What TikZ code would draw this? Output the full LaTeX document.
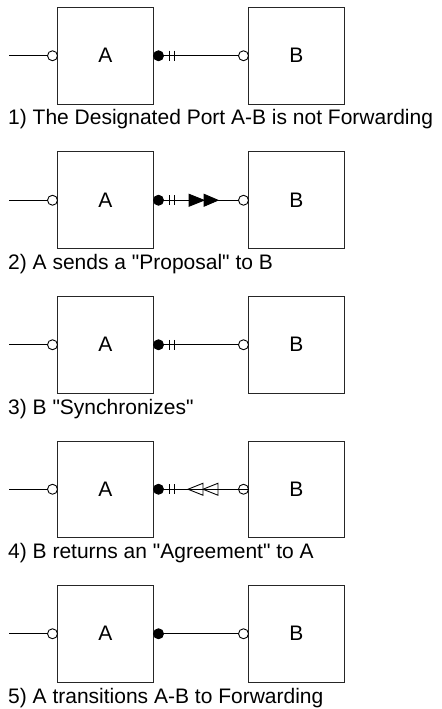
\documentclass[tikz,border=0pt]{standalone}
\usepackage{fontspec}
\setmainfont{Liberation Sans}[Ligatures=TeXOff]
\usetikzlibrary{calc}

\tikzset{
  bridge/.style={draw=black!85, line width=1bp, minimum width=96bp, minimum height=96.5bp,
    inner sep=0pt, font=\fontsize{21bp}{25bp}\selectfont},
  openport/.style={circle, draw, fill=white, line width=0.9bp, minimum size=10bp, inner sep=0pt},
  hollowport/.style={circle, draw, line width=0.9bp, minimum size=10bp, inner sep=0pt},
  rootport/.style={circle, draw, fill=black, line width=0.9bp, minimum size=10bp, inner sep=0pt},
  wire/.style={line width=0.9bp},
  caption/.style={anchor=base west, inner sep=0pt, font=\fontsize{21bp}{25bp}\selectfont},
  flag/.style={line width=0.9bp, fill=black, line join=miter},
  ackflag/.style={line width=0.9bp, line join=miter},
}

\begin{document}
\begin{tikzpicture}[x=1bp, y=-1bp]
\useasboundingbox (0,0) rectangle (442,709);
\fill[white] (0,0) rectangle (442,709);

% five snapshots of the same two-bridge link
\foreach \i/\txt in {1/{1) The Designated Port A-B is not Forwarding},
                     2/{2) A sends a "Proposal" to B},
                     3/{3) B "Synchronizes"},
                     4/{4) B returns an "Agreement" to A},
                     5/{5) A transitions A-B to Forwarding}} {
  \pgfmathsetmacro{\cy}{55.75+(\i-1)*144.5}
  \pgfmathsetmacro{\by}{125+(\i-1)*144.5}
  \node[bridge] (A\i) at (105.5, \cy) {A};
  \node[bridge] (B\i) at (296.25, \cy) {B};
  \coordinate (e\i) at (9, \cy);
  \node[openport] (pA\i) at (52.5, \cy) {};
  \node[rootport] (dA\i) at (158.5, \cy) {};
  \node[caption] (cap\i) at (8, \by) {\txt};
  \draw[wire] (e\i) -- (pA\i);
}

% links that end on B's port
\foreach \i in {1,2,3,5} {
  \pgfmathsetmacro{\cy}{55.75+(\i-1)*144.5}
  \node[openport] (pB\i) at (243.5, \cy) {};
  \draw[wire] (dA\i) -- (pB\i);
}

% step 4: the agreement travels back into B's port
\node[hollowport] (pB4) at (243.5, 489.25) {};
\draw[wire] (dA4) -- (B4.west);

% discarding marks next to A's designated port
\foreach \i in {1,2,3,4} {
  \draw[wire] ($(dA\i)+(11,-5)$) -- ($(dA\i)+(11,5)$);
  \draw[wire] ($(dA\i)+(16,-5)$) -- ($(dA\i)+(16,5)$);
}

% step 2: proposal arrows towards B
\draw[flag] ($(dA2)+(30.5,-6)$) -- ($(dA2)+(45.5,0)$) -- ($(dA2)+(30.5,6)$) -- cycle;
\draw[flag] ($(dA2)+(45.5,-6)$) -- ($(dA2)+(59.5,0)$) -- ($(dA2)+(45.5,6)$) -- cycle;

% step 4: agreement arrows towards A
\draw[ackflag] ($(dA4)+(44.5,-6)$) -- ($(dA4)+(29.5,0)$) -- ($(dA4)+(44.5,6)$) -- cycle;
\draw[ackflag] ($(dA4)+(59.5,-6)$) -- ($(dA4)+(44.5,0)$) -- ($(dA4)+(59.5,6)$) -- cycle;
\end{tikzpicture}
\end{document}
